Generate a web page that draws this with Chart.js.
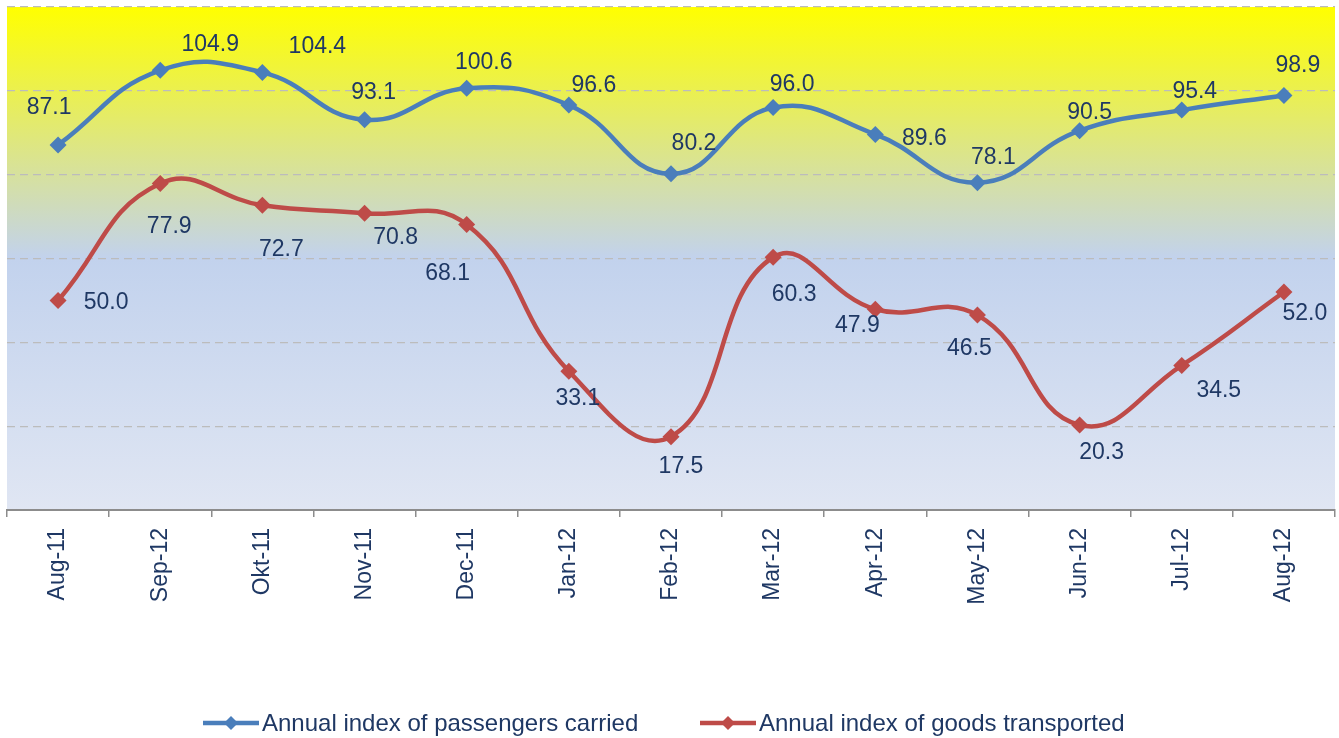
<!DOCTYPE html>
<html>
<head>
<meta charset="utf-8">
<script src="https://cdn.jsdelivr.net/npm/chart.js@4/dist/chart.umd.min.js"></script>
<style>
  html, body { margin: 0; padding: 0; background: #ffffff; }
  #wrap { width: 1339px; height: 738px; position: relative; }
</style>
</head>
<body>
<div id="wrap"><canvas id="c" width="1339" height="738"></canvas></div>
<script>
// ---- data ----
const categories = ["Aug-11", "Sep-12", "Okt-11", "Nov-11", "Dec-11", "Jan-12", "Feb-12", "Mar-12", "Apr-12", "May-12", "Jun-12", "Jul-12", "Aug-12"];
const passengers = [87.1, 104.9, 104.4, 93.1, 100.6, 96.6, 80.2, 96.0, 89.6, 78.1, 90.5, 95.4, 98.9];
const goods = [50.0, 77.9, 72.7, 70.8, 68.1, 33.1, 17.5, 60.3, 47.9, 46.5, 20.3, 34.5, 52.0];
const seriesNames = ["Annual index of passengers carried", "Annual index of goods transported"];
const yTicks = [0, 20, 40, 60, 80, 100, 120];

// ---- style ----
const BLUE = "#4a7ebb";
const RED = "#be4b48";
const TEXT = "#1f3864";
const FONT = "'Liberation Sans', Arial, sans-serif";
// label offsets (dx, dy) of data labels relative to their point
const passengerLabelOffsets = [[-9,-37],[50,-26],[55,-26],[9,-27],[17,-26],[25,-19],[23,-30],[19,-23],[49,4],[16,-25],[10,-18],[13,-18],[14,-30]];
const goodsLabelOffsets = [[48,2],[9,43],[19,44],[31,24],[-19,49],[9,27],[10,30],[21,37],[-18,16],[-8,34],[22,28],[37,25],[21,22]];

const bgPlugin = {
  id: "bg",
  beforeDraw(chart) {
    const {ctx, chartArea: a} = chart;
    const g = ctx.createLinearGradient(0, a.top, 0, a.bottom);
    g.addColorStop(0, "#ffff00");
    g.addColorStop(0.5, "#c2d2ed");
    g.addColorStop(1, "#e0e6f3");
    ctx.save();
    ctx.fillStyle = g;
    ctx.fillRect(a.left, a.top, a.right - a.left, a.bottom - a.top);
    ctx.restore();
  }
};

const labelPlugin = {
  id: "vals",
  afterDatasetsDraw(chart) {
    const ctx = chart.ctx;
    const offs = [passengerLabelOffsets, goodsLabelOffsets];
    ctx.save();
    ctx.font = "23px " + FONT;
    ctx.fillStyle = TEXT;
    ctx.textAlign = "center";
    ctx.textBaseline = "middle";
    chart.data.datasets.forEach((ds, di) => {
      const meta = chart.getDatasetMeta(di);
      meta.data.forEach((pt, i) => {
        const o = offs[di][i];
        ctx.fillText(ds.data[i].toFixed(1), pt.x + o[0], pt.y + o[1]);
      });
    });
    ctx.restore();
  }
};

const legendPlugin = {
  id: "customLegend",
  afterDraw(chart) {
    const ctx = chart.ctx;
    const colors = [BLUE, RED];
    const starts = [203, 700];
    const y = 723;
    ctx.save();
    ctx.font = "24px " + FONT;
    ctx.textBaseline = "middle";
    ctx.textAlign = "left";
    seriesNames.forEach((name, i) => {
      const x = starts[i];
      ctx.strokeStyle = colors[i];
      ctx.lineWidth = 4.5;
      ctx.beginPath();
      ctx.moveTo(x, y);
      ctx.lineTo(x + 56, y);
      ctx.stroke();
      ctx.fillStyle = colors[i];
      ctx.beginPath();
      const cx = x + 28, r = 7;
      ctx.moveTo(cx - r, y); ctx.lineTo(cx, y - r); ctx.lineTo(cx + r, y); ctx.lineTo(cx, y + r);
      ctx.closePath();
      ctx.fill();
      ctx.fillStyle = TEXT;
      ctx.fillText(name, x + 59, y + 1);
    });
    ctx.restore();
  }
};

new Chart(document.getElementById("c"), {
  type: "line",
  data: {
    labels: categories,
    datasets: [
      {
        label: seriesNames[0], data: passengers,
        borderColor: BLUE, backgroundColor: BLUE, borderWidth: 4.5,
        pointStyle: "rectRot", pointRadius: 8.5, pointBorderWidth: 0,
        pointBackgroundColor: BLUE, tension: 0.45, fill: false
      },
      {
        label: seriesNames[1], data: goods,
        borderColor: RED, backgroundColor: RED, borderWidth: 4.5,
        pointStyle: "rectRot", pointRadius: 8.5, pointBorderWidth: 0,
        pointBackgroundColor: RED, tension: 0.45, fill: false
      }
    ]
  },
  options: {
    responsive: false,
    animation: false,
    layout: { autoPadding: false, padding: { left: 7, right: 4, top: 7, bottom: 0 } },
    plugins: {
      legend: { display: false },
      tooltip: { enabled: false }
    },
    scales: {
      x: {
        offset: true,
        grid: { display: true, drawOnChartArea: false, drawTicks: true, tickLength: 7, offset: true, color: "#8c8c8c", lineWidth: 1.5 },
        border: { display: true, color: "#8c8c8c", width: 2 },
        ticks: { color: TEXT, font: { family: FONT, size: 23 }, maxRotation: 90, minRotation: 90, padding: 11, autoSkip: false },
        afterFit(scale) { scale.height = 228; scale.paddingLeft = 0; scale.paddingRight = 0; }
      },
      y: {
        min: 0, max: 120,
        afterBuildTicks(scale) { scale.ticks = yTicks.map(v => ({ value: v })); },
        grid: { color: "#bcbcbc", lineWidth: 1.2, drawTicks: false },
        border: { display: false, dash: [8, 5] },
        ticks: { display: false }
      }
    }
  },
  plugins: [bgPlugin, labelPlugin, legendPlugin]
});
</script>
</body>
</html>
